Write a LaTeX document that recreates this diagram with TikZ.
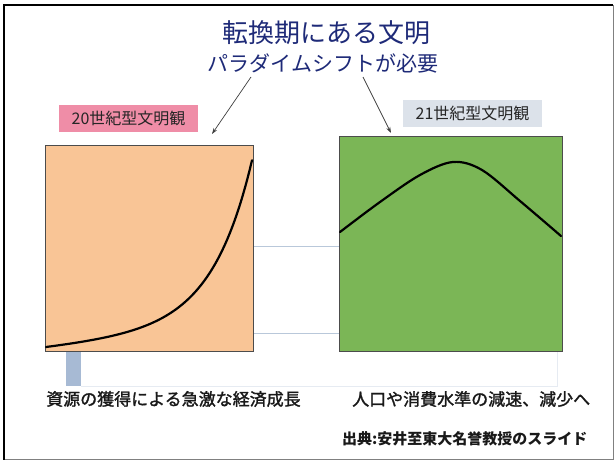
\documentclass[tikz,border=0pt]{standalone}
\usepackage{fontspec}
\setmainfont{Noto Sans CJK JP}
\newfontfamily\jpfont{Noto Sans CJK JP}
\newfontfamily\jpbold[FakeBold=1.5]{Noto Sans CJK JP}
\usetikzlibrary{arrows.meta}
\definecolor{navy}{HTML}{1E2A78}
\definecolor{peach}{HTML}{F9C596}
\definecolor{leaf}{HTML}{7BB656}
\definecolor{pinkbox}{HTML}{EF8DA7}
\definecolor{graybox}{HTML}{DCE2EA}
\definecolor{barblue}{HTML}{A7BAD4}
\definecolor{faint}{HTML}{B9C8DA}
\definecolor{faintest}{HTML}{E6EBF2}
\tikzset{
  panel/.style={draw=black!70, line width=0.9pt},
  tagbox/.style={inner sep=0pt, minimum height=27pt, font=\jpfont\fontsize{16}{16}\selectfont, text=black!85},
  pointer/.style={draw=black!75, line width=0.7pt, -{Stealth[length=6pt,width=4pt]}},
  curveline/.style={line width=2.2pt, black, line cap=round, line join=round},
  bottomtext/.style={font=\jpbold\fontsize{17}{17}\selectfont, text=black!90, inner sep=0pt, anchor=west}
}
\begin{document}
\begin{tikzpicture}[x=1pt,y=-1pt]
\useasboundingbox (0,0) rectangle (614,460);
\fill[white] (0,0) rectangle (614,460);
% frame
\draw[black!50, line width=0.8pt] (613,5) -- (613,459.5) -- (4,459.5);
\draw[black, line width=2.2pt] (4,460) -- (4,5) -- (613,5);
% faint background lines
\draw[faint, line width=0.8pt] (254,246) -- (339,246);
\draw[faint, line width=0.8pt] (254,333) -- (339,333);
\draw[faintest, line width=0.8pt] (81,386) -- (557,386) -- (557,352);
\fill[barblue] (66,352) rectangle (81,386);
% titles
\node[font=\jpfont\fontsize{26}{26}\selectfont, text=navy, inner sep=0pt] (t1) at (326,33) {転換期にある文明};
\node[font=\jpfont\fontsize{21}{21}\selectfont, text=navy, inner sep=0pt] (t2) at (323,63) {パラダイムシフトが必要};
\coordinate (a1s) at (251,77);
\coordinate (a2s) at (363,77);
% tags
\node[tagbox, fill=pinkbox, minimum width=139pt] (tag20) at (128.5,118.5) {20世紀型文明観};
\node[tagbox, fill=graybox, minimum width=139pt] (tag21) at (472.5,113.5) {21世紀型文明観};
% panels
\node[panel, fill=peach, minimum width=208pt, minimum height=206pt, inner sep=0pt] (p20) at (149,248) {};
\node[panel, fill=leaf, minimum width=223pt, minimum height=215pt, inner sep=0pt] (p21) at (450.5,243.5) {};
\coordinate (a1e) at (212,134);
\coordinate (a2e) at (391,133);
\draw[pointer] (a1s) -- (a1e);
\draw[pointer] (a2s) -- (a2e);
% curves
\draw[curveline] plot[domain=46:252, samples=90, smooth]
  (\x, {347 - 0.107*(\x-46) - 0.962*(exp(0.025*(\x-46))-1)});
\draw[curveline] plot[smooth, tension=0.55] coordinates {(340,232) (380,202) (420,175) (453,162) (482,170) (520,201) (561,236)};
% bottom texts
\node[bottomtext] (b1) at (46,399) {資源の獲得による急激な経済成長};
\node[bottomtext] (b2) at (352,399) {人口や消費水準の減速、減少へ};
\node[font=\jpfont\bfseries\fontsize{15}{15}\selectfont, inner sep=0pt, anchor=west, text=black!90] (src) at (342,439) {出典:安井至東大名誉教授のスライド};
\end{tikzpicture}
\end{document}
